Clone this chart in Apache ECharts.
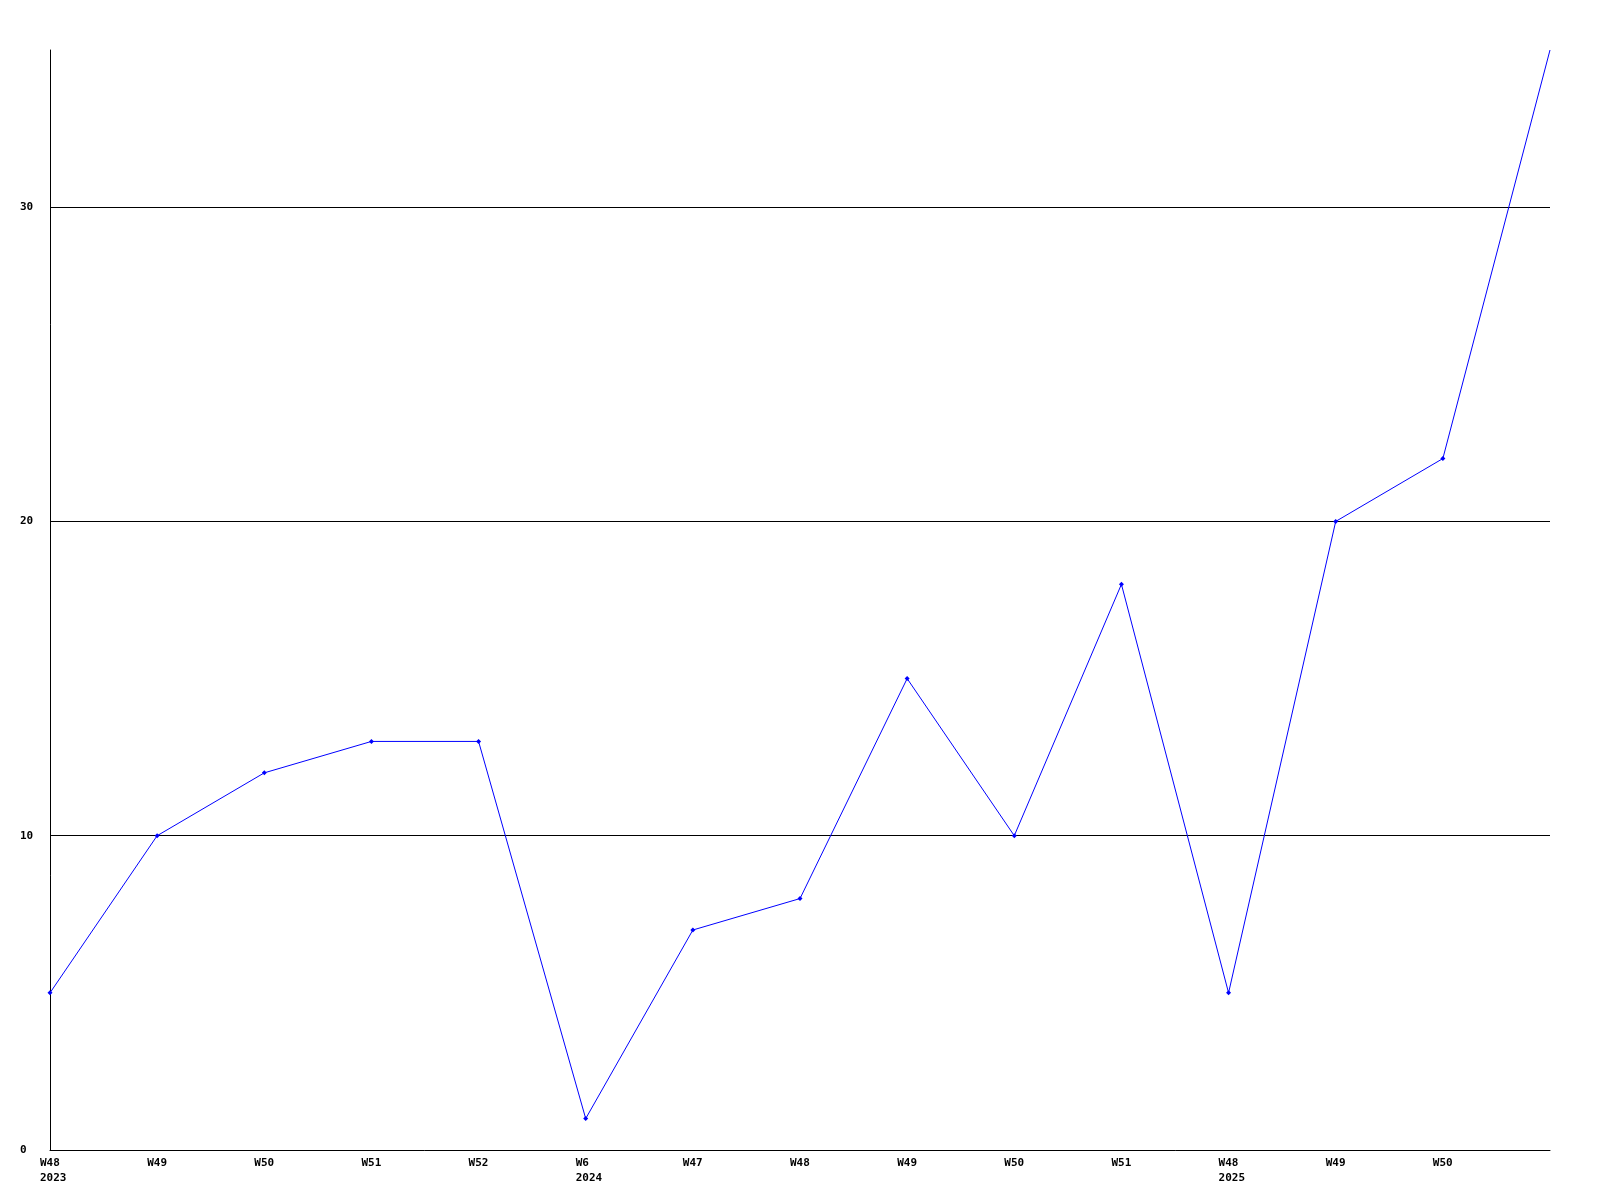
<!DOCTYPE html>
<html>
<head>
<meta charset="utf-8">
<script src="https://cdn.jsdelivr.net/npm/echarts@6/dist/echarts.min.js"></script>
<style>
html,body{margin:0;padding:0;background:#fff;}
#chart{width:1600px;height:1200px;}
</style>
</head>
<body>
<div id="chart"></div>
<script>
const categories = ['W48\n2023','W49','W50','W51','W52','W6\n2024','W47','W48','W49','W50','W51','W48\n2025','W49','W50',''];
const values = [5, 10, 12, 13, 13, 1, 7, 8, 15, 10, 18, 5, 20, 22, 35];
const yMin = 0, yMax = 35, yInterval = 10;

const chart = echarts.init(document.getElementById('chart'));
const font = '"DejaVu Sans Mono", "Liberation Mono", monospace';
chart.setOption({
  animation: false,
  backgroundColor: '#ffffff',
  grid: {left: 50, right: 50, top: 50, bottom: 50},
  xAxis: {
    type: 'category',
    data: categories,
    boundaryGap: false,
    axisLine: {show: true, lineStyle: {color: '#000', width: 1}},
    axisTick: {show: false},
    splitLine: {show: false},
    axisLabel: {
      interval: 0,
      margin: 6,
      color: '#000',
      fontFamily: font,
      fontWeight: 'bold',
      fontSize: 11,
      lineHeight: 15,
      formatter: function (v) {
        return v.split('\n').map(function (s) { return '{a|' + s + '}'; }).join('\n');
      },
      rich: {a: {width: 20, align: 'left', color: '#000', fontFamily: font, fontWeight: 'bold', fontSize: 11, lineHeight: 15}}
    }
  },
  yAxis: {
    type: 'value',
    min: yMin,
    max: yMax,
    interval: yInterval,
    axisLine: {show: true, lineStyle: {color: '#000', width: 1}},
    axisTick: {show: false},
    splitLine: {show: true, showMinLine: false, showMaxLine: false, lineStyle: {color: '#000', width: 1}},
    axisLabel: {
      showMaxLabel: false,
      align: 'left',
      margin: 30,
      color: '#000',
      fontFamily: font,
      fontWeight: 'bold',
      fontSize: 11
    }
  },
  series: [{
    type: 'line',
    data: values,
    symbol: function (val, params) { return params.dataIndex === values.length - 1 ? 'none' : 'diamond'; },
    symbolSize: 5,
    showAllSymbol: true,
    lineStyle: {color: '#0000ff', width: 1},
    itemStyle: {color: '#0000ff'}
  }]
});
</script>
</body>
</html>
